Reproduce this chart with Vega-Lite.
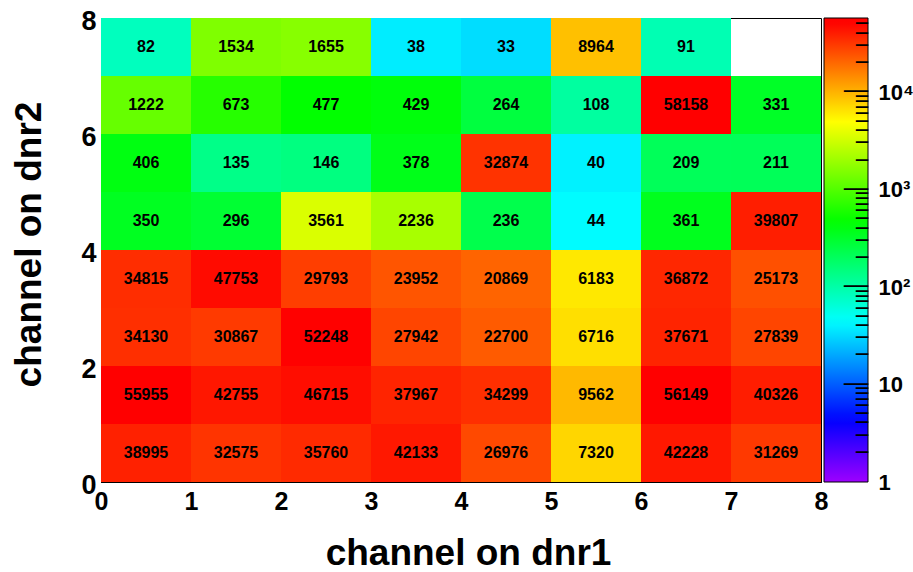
{
  "$schema": "https://vega.github.io/schema/vega-lite/v6.json",
  "width": 720,
  "height": 464,
  "autosize": {"type": "none"},
  "padding": {"left": 101, "top": 18, "right": 92, "bottom": 90},
  "background": "white",
  "config": {
    "view": {"stroke": "black", "strokeWidth": 1},
    "font": "Liberation Sans",
    "axis": {
      "grid": false,
      "domainColor": "black",
      "tickColor": "black",
      "labelColor": "black",
      "titleColor": "black",
      "labelFont": "Liberation Sans",
      "titleFont": "Liberation Sans",
      "labelFontWeight": "bold",
      "titleFontWeight": "bold",
      "labelOverlap": false,
      "labelFlush": false,
      "zindex": 3
    },
    "legend": {"padding": 0, "offset": 0}
  },
  "data": {
    "values": [
      {"ch1": 0, "ch2": 7, "n": 82}, {"ch1": 1, "ch2": 7, "n": 1534}, {"ch1": 2, "ch2": 7, "n": 1655}, {"ch1": 3, "ch2": 7, "n": 38},
      {"ch1": 4, "ch2": 7, "n": 33}, {"ch1": 5, "ch2": 7, "n": 8964}, {"ch1": 6, "ch2": 7, "n": 91},
      {"ch1": 0, "ch2": 6, "n": 1222}, {"ch1": 1, "ch2": 6, "n": 673}, {"ch1": 2, "ch2": 6, "n": 477}, {"ch1": 3, "ch2": 6, "n": 429},
      {"ch1": 4, "ch2": 6, "n": 264}, {"ch1": 5, "ch2": 6, "n": 108}, {"ch1": 6, "ch2": 6, "n": 58158}, {"ch1": 7, "ch2": 6, "n": 331},
      {"ch1": 0, "ch2": 5, "n": 406}, {"ch1": 1, "ch2": 5, "n": 135}, {"ch1": 2, "ch2": 5, "n": 146}, {"ch1": 3, "ch2": 5, "n": 378},
      {"ch1": 4, "ch2": 5, "n": 32874}, {"ch1": 5, "ch2": 5, "n": 40}, {"ch1": 6, "ch2": 5, "n": 209}, {"ch1": 7, "ch2": 5, "n": 211},
      {"ch1": 0, "ch2": 4, "n": 350}, {"ch1": 1, "ch2": 4, "n": 296}, {"ch1": 2, "ch2": 4, "n": 3561}, {"ch1": 3, "ch2": 4, "n": 2236},
      {"ch1": 4, "ch2": 4, "n": 236}, {"ch1": 5, "ch2": 4, "n": 44}, {"ch1": 6, "ch2": 4, "n": 361}, {"ch1": 7, "ch2": 4, "n": 39807},
      {"ch1": 0, "ch2": 3, "n": 34815}, {"ch1": 1, "ch2": 3, "n": 47753}, {"ch1": 2, "ch2": 3, "n": 29793}, {"ch1": 3, "ch2": 3, "n": 23952},
      {"ch1": 4, "ch2": 3, "n": 20869}, {"ch1": 5, "ch2": 3, "n": 6183}, {"ch1": 6, "ch2": 3, "n": 36872}, {"ch1": 7, "ch2": 3, "n": 25173},
      {"ch1": 0, "ch2": 2, "n": 34130}, {"ch1": 1, "ch2": 2, "n": 30867}, {"ch1": 2, "ch2": 2, "n": 52248}, {"ch1": 3, "ch2": 2, "n": 27942},
      {"ch1": 4, "ch2": 2, "n": 22700}, {"ch1": 5, "ch2": 2, "n": 6716}, {"ch1": 6, "ch2": 2, "n": 37671}, {"ch1": 7, "ch2": 2, "n": 27839},
      {"ch1": 0, "ch2": 1, "n": 55955}, {"ch1": 1, "ch2": 1, "n": 42755}, {"ch1": 2, "ch2": 1, "n": 46715}, {"ch1": 3, "ch2": 1, "n": 37967},
      {"ch1": 4, "ch2": 1, "n": 34299}, {"ch1": 5, "ch2": 1, "n": 9562}, {"ch1": 6, "ch2": 1, "n": 56149}, {"ch1": 7, "ch2": 1, "n": 40326},
      {"ch1": 0, "ch2": 0, "n": 38995}, {"ch1": 1, "ch2": 0, "n": 32575}, {"ch1": 2, "ch2": 0, "n": 35760}, {"ch1": 3, "ch2": 0, "n": 42133},
      {"ch1": 4, "ch2": 0, "n": 26976}, {"ch1": 5, "ch2": 0, "n": 7320}, {"ch1": 6, "ch2": 0, "n": 42228}, {"ch1": 7, "ch2": 0, "n": 31269}
    ]
  },
  "transform": [
    {"calculate": "datum.ch1 + 1", "as": "ch1e"},
    {"calculate": "datum.ch2 + 1", "as": "ch2e"},
    {"calculate": "datum.ch1 + 0.5", "as": "ch1c"},
    {"calculate": "datum.ch2 + 0.5", "as": "ch2c"}
  ],
  "layer": [
    {
      "mark": {"type": "rect", "strokeWidth": 0},
      "encoding": {
        "x": {
          "field": "ch1", "type": "quantitative",
          "scale": {"domain": [0, 8], "nice": false, "zero": false},
          "axis": {
            "orient": "bottom", "values": [0, 1, 2, 3, 4, 5, 6, 7, 8],
            "tickSize": -13, "labelPadding": 20, "labelFontSize": 25,
            "title": "channel on dnr1", "titleFontSize": 37,
            "titleBaseline": "alphabetic", "titleX": 367, "titleY": 82
          }
        },
        "x2": {"field": "ch1e"},
        "y": {
          "field": "ch2", "type": "quantitative",
          "scale": {"domain": [0, 8], "nice": false, "zero": false},
          "axis": {
            "orient": "left", "values": [0, 2, 4, 6, 8],
            "tickSize": -22, "labelPadding": 27, "labelFontSize": 27, "labelOffset": 3,
            "title": "channel on dnr2", "titleFontSize": 37,
            "titleBaseline": "alphabetic", "titleX": -61, "titleY": 226
          }
        },
        "y2": {"field": "ch2e"},
        "color": {
          "field": "n", "type": "quantitative",
          "scale": {
            "type": "log", "domain": [1, 52700, 58158],
            "range": ["hsl(277,100%,50%)", "hsl(0,100%,50%)", "hsl(0,100%,50%)"],
            "interpolate": "hsl-long"
          },
          "legend": {
            "type": "gradient", "orient": "none", "direction": "vertical",
            "legendX": 723, "legendY": 0,
            "gradientLength": 464, "gradientThickness": 44,
            "gradientStrokeColor": "black", "gradientStrokeWidth": 1,
            "title": null,
            "values": [2, 3, 4, 5, 6, 7, 8, 9, 10, 20, 30, 40, 50, 60, 70, 80, 90, 100, 200, 300, 400, 500, 600, 700, 800, 900, 1000, 2000, 3000, 4000, 5000, 6000, 7000, 8000, 9000, 10000, 20000, 30000, 40000, 50000],
            "labelExpr": "indexof([10, 100, 1000, 10000], datum.value) >= 0 ? '──' : '─'",
            "labelFont": "DejaVu Sans Mono", "labelFontSize": 20, "labelColor": "black",
            "labelAlign": "right", "labelOffset": 0, "labelOverlap": false, "labelLimit": 200,
            "encode": {"labels": {"update": {"baseline": {"value": "middle"}, "align": {"value": "right"}}}}
          }
        }
      }
    },
    {
      "mark": {"type": "text", "fontSize": 16, "fontWeight": "bold", "font": "Liberation Sans", "color": "black"},
      "encoding": {
        "x": {
          "field": "ch1c", "type": "quantitative",
          "scale": {"domain": [0, 8], "nice": false, "zero": false},
          "axis": {
            "orient": "bottom",
            "values": [0.2, 0.4, 0.6, 0.8, 1.2, 1.4, 1.6, 1.8, 2.2, 2.4, 2.6, 2.8, 3.2, 3.4, 3.6, 3.8, 4.2, 4.4, 4.6, 4.8, 5.2, 5.4, 5.6, 5.8, 6.2, 6.4, 6.6, 6.8, 7.2, 7.4, 7.6, 7.8],
            "tickSize": -6, "labels": false, "domain": false, "title": null
          }
        },
        "y": {
          "field": "ch2c", "type": "quantitative",
          "scale": {"domain": [0, 8], "nice": false, "zero": false},
          "axis": {
            "orient": "left",
            "values": [0.5, 1, 1.5, 2.5, 3, 3.5, 4.5, 5, 5.5, 6.5, 7, 7.5],
            "tickSize": -11, "labels": false, "domain": false, "title": null
          }
        },
        "text": {"field": "n", "type": "quantitative", "format": "d"}
      }
    },
    {
      "mark": {"type": "point", "opacity": 0},
      "encoding": {
        "y": {
          "field": "n", "type": "quantitative",
          "scale": {"type": "log", "domain": [1, 58158], "nice": false},
          "axis": {
            "orient": "right", "offset": 47, "values": [1, 10, 100, 1000, 10000],
            "ticks": false, "labelPadding": 10, "labelFontSize": 22, "domain": false,
            "labelAlign": "left", "labelBaseline": "middle", "title": null,
            "labelExpr": "datum.value == 1 ? '1' : datum.value == 10 ? '10' : datum.value == 100 ? '10²' : datum.value == 1000 ? '10³' : '10⁴'"
          }
        }
      }
    }
  ],
  "resolve": {
    "scale": {"y": "independent"},
    "axis": {"x": "independent", "y": "independent"}
  }
}
